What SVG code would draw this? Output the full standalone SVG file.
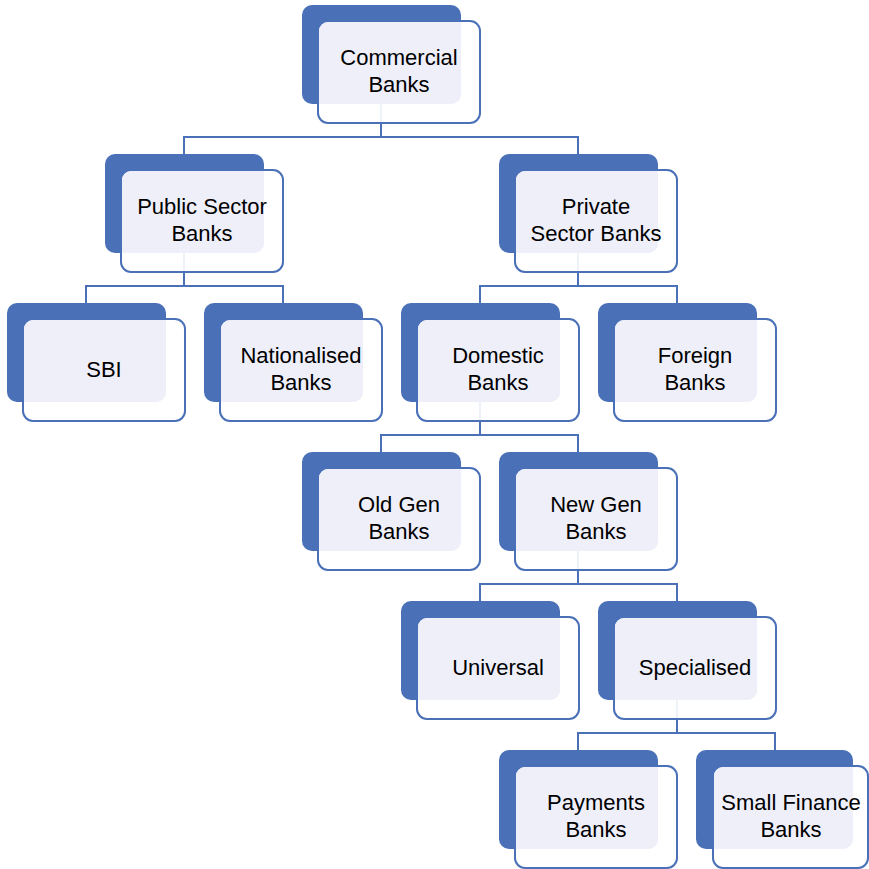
<svg xmlns="http://www.w3.org/2000/svg" width="869" height="869" viewBox="0 0 869 869">
<style>
.back{fill:#4A70B8;}
.front{fill:#ffffff;fill-opacity:0.9;stroke:#4A70B8;stroke-width:2;}
.ov{fill:#EFEFFA;}
.conn{fill:none;stroke:#4A70B8;stroke-width:2;}
text{font-family:"Liberation Sans",Arial,sans-serif;font-size:22px;fill:#000000;text-anchor:middle;}
</style>
<rect width="869" height="869" fill="#ffffff"/>
<g id="connectors">
<path class="conn" d="M381,104 V137 M184,154 V137 H578 V154"/>
<path class="conn" d="M184,253 V286 M86,303 V286 H283 V303"/>
<path class="conn" d="M578,253 V286 M480,303 V286 H677 V303"/>
<path class="conn" d="M480,402 V435 M381,452 V435 H578 V452"/>
<path class="conn" d="M578,551 V584 M480,601 V584 H677 V601"/>
<path class="conn" d="M677,700 V733 M578,750 V733 H775 V750"/>
</g>
<g id="commercial">
<rect class="back" x="302" y="5" width="159" height="99" rx="10"/>
<rect class="front" x="318" y="21" width="162" height="102" rx="10"/>
<path class="ov" d="M319,31 a9,9 0 0 1 9,-9 h133 v72 a10,10 0 0 1 -10,10 h-132 z"/>
<text x="399" y="65">Commercial</text><text x="399" y="92">Banks</text>
</g>
<g id="public">
<rect class="back" x="105" y="154" width="159" height="99" rx="10"/>
<rect class="front" x="121" y="170" width="162" height="102" rx="10"/>
<path class="ov" d="M122,180 a9,9 0 0 1 9,-9 h133 v72 a10,10 0 0 1 -10,10 h-132 z"/>
<text x="202" y="214">Public Sector</text><text x="202" y="241">Banks</text>
</g>
<g id="private">
<rect class="back" x="499" y="154" width="159" height="99" rx="10"/>
<rect class="front" x="515" y="170" width="162" height="102" rx="10"/>
<path class="ov" d="M516,180 a9,9 0 0 1 9,-9 h133 v72 a10,10 0 0 1 -10,10 h-132 z"/>
<text x="596" y="214">Private</text><text x="596" y="241">Sector Banks</text>
</g>
<g id="sbi">
<rect class="back" x="7" y="303" width="159" height="99" rx="10"/>
<rect class="front" x="23" y="319" width="162" height="102" rx="10"/>
<path class="ov" d="M24,329 a9,9 0 0 1 9,-9 h133 v72 a10,10 0 0 1 -10,10 h-132 z"/>
<text x="104" y="377">SBI</text>
</g>
<g id="nationalised">
<rect class="back" x="204" y="303" width="159" height="99" rx="10"/>
<rect class="front" x="220" y="319" width="162" height="102" rx="10"/>
<path class="ov" d="M221,329 a9,9 0 0 1 9,-9 h133 v72 a10,10 0 0 1 -10,10 h-132 z"/>
<text x="301" y="363">Nationalised</text><text x="301" y="390">Banks</text>
</g>
<g id="domestic">
<rect class="back" x="401" y="303" width="159" height="99" rx="10"/>
<rect class="front" x="417" y="319" width="162" height="102" rx="10"/>
<path class="ov" d="M418,329 a9,9 0 0 1 9,-9 h133 v72 a10,10 0 0 1 -10,10 h-132 z"/>
<text x="498" y="363">Domestic</text><text x="498" y="390">Banks</text>
</g>
<g id="foreign">
<rect class="back" x="598" y="303" width="159" height="99" rx="10"/>
<rect class="front" x="614" y="319" width="162" height="102" rx="10"/>
<path class="ov" d="M615,329 a9,9 0 0 1 9,-9 h133 v72 a10,10 0 0 1 -10,10 h-132 z"/>
<text x="695" y="363">Foreign</text><text x="695" y="390">Banks</text>
</g>
<g id="oldgen">
<rect class="back" x="302" y="452" width="159" height="99" rx="10"/>
<rect class="front" x="318" y="468" width="162" height="102" rx="10"/>
<path class="ov" d="M319,478 a9,9 0 0 1 9,-9 h133 v72 a10,10 0 0 1 -10,10 h-132 z"/>
<text x="399" y="512">Old Gen</text><text x="399" y="539">Banks</text>
</g>
<g id="newgen">
<rect class="back" x="499" y="452" width="159" height="99" rx="10"/>
<rect class="front" x="515" y="468" width="162" height="102" rx="10"/>
<path class="ov" d="M516,478 a9,9 0 0 1 9,-9 h133 v72 a10,10 0 0 1 -10,10 h-132 z"/>
<text x="596" y="512">New Gen</text><text x="596" y="539">Banks</text>
</g>
<g id="universal">
<rect class="back" x="401" y="601" width="159" height="99" rx="10"/>
<rect class="front" x="417" y="617" width="162" height="102" rx="10"/>
<path class="ov" d="M418,627 a9,9 0 0 1 9,-9 h133 v72 a10,10 0 0 1 -10,10 h-132 z"/>
<text x="498" y="675">Universal</text>
</g>
<g id="specialised">
<rect class="back" x="598" y="601" width="159" height="99" rx="10"/>
<rect class="front" x="614" y="617" width="162" height="102" rx="10"/>
<path class="ov" d="M615,627 a9,9 0 0 1 9,-9 h133 v72 a10,10 0 0 1 -10,10 h-132 z"/>
<text x="695" y="675">Specialised</text>
</g>
<g id="payments">
<rect class="back" x="499" y="750" width="159" height="99" rx="10"/>
<rect class="front" x="515" y="766" width="162" height="102" rx="10"/>
<path class="ov" d="M516,776 a9,9 0 0 1 9,-9 h133 v72 a10,10 0 0 1 -10,10 h-132 z"/>
<text x="596" y="810">Payments</text><text x="596" y="837">Banks</text>
</g>
<g id="smallfinance">
<rect class="back" x="696" y="750" width="157" height="99" rx="10"/>
<rect class="front" x="713" y="766" width="155" height="102" rx="10"/>
<path class="ov" d="M714,776 a9,9 0 0 1 9,-9 h130 v72 a10,10 0 0 1 -10,10 h-129 z"/>
<text x="791" y="810">Small Finance</text><text x="791" y="837">Banks</text>
</g>
</svg>
